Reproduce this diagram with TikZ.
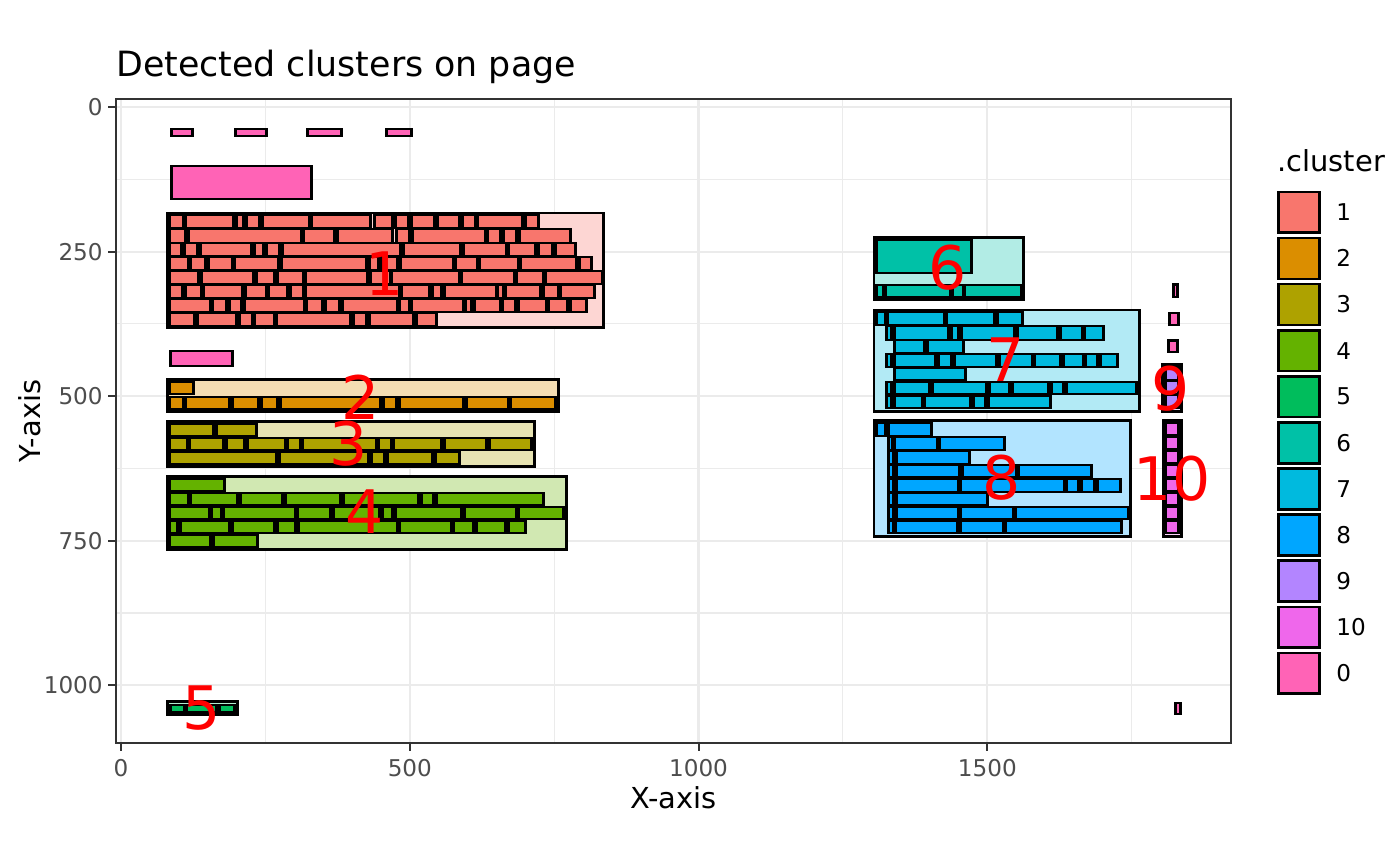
\documentclass[tikz,border=0pt]{standalone}
\usepackage{fontspec}
\setmainfont{DejaVu Sans}
\definecolor{c1}{HTML}{F8766D}
\definecolor{c2}{HTML}{DB8E00}
\definecolor{c3}{HTML}{AEA200}
\definecolor{c4}{HTML}{64B200}
\definecolor{c5}{HTML}{00BD5C}
\definecolor{c6}{HTML}{00C1A7}
\definecolor{c7}{HTML}{00BADE}
\definecolor{c8}{HTML}{00A6FF}
\definecolor{c9}{HTML}{B385FF}
\definecolor{c10}{HTML}{EF67EB}
\definecolor{c0}{HTML}{FF63B6}
\definecolor{gridc}{HTML}{EBEBEB}
\definecolor{gtw}{HTML}{333333}
\definecolor{gth}{HTML}{4D4D4D}
\newcommand\wrow[4]{%
  \foreach \a/\b in {#4}{\fill[black] (\a-3,#2-2.1) rectangle (\b+3,#3+2.1);}
  \foreach \a/\b in {#4}{\fill[#1] (\a,#2) rectangle (\b,#3);}}
\newcommand\hullbox[5]{\filldraw[fill=#1!30!white, draw=black, line width=1.4pt] (#2,#3) rectangle (#4,#5);}
\tikzset{
  majorgrid/.style={draw=gridc, line width=1.1pt},
  minorgrid/.style={draw=gridc, line width=0.55pt},
  tickmark/.style={draw=gtw, line width=1pt},
  ticklabel/.style={text=gth, inner sep=0pt, font=\fontsize{11.55}{13}\selectfont},
  axtitle/.style={inner sep=0pt, font=\fontsize{14.45}{16}\selectfont},
  clabel/.style={text=red, inner sep=0pt, font=\fontsize{30}{32}\selectfont},
  legkey/.style={draw=black, line width=1.3pt},
}
\begin{document}
\begin{tikzpicture}[x=0.5pt,y=-0.5pt]
\useasboundingbox (0,0) rectangle (1400,866);
\fill[white] (0,0) rectangle (1400,866);
% grid
\foreach \xx in {265.4,554.2,842.9,1131.7}{\draw[minorgrid] (\xx,99) -- (\xx,743);}
\foreach \yy in {179.3,323.9,468.4,613.0}{\draw[minorgrid] (116,\yy) -- (1231,\yy);}
\foreach \xx in {121,409.8,698.5,987.3}{\draw[majorgrid] (\xx,99) -- (\xx,743);}
\foreach \yy in {107,251.6,396.2,540.7,685.3}{\draw[majorgrid] (116,\yy) -- (1231,\yy);}
% cluster 0 (noise)
\wrow{c0}{130.5}{135.1}{172.5/191.4, 237.2/264.9, 309.2/340.3, 388/410}
\wrow{c0}{167.5}{198.1}{172.5/310}
\wrow{c0}{352.2}{364.8}{172/231}
\wrow{c0}{285.5}{296.1}{1174.5/1176.2}
\wrow{c0}{313.9}{323.8}{1170.7/1177}
\wrow{c0}{341.5}{351.1}{1170/1176.3}
\wrow{c0}{704.2}{713.1}{1176.9/1179.1}
% cluster 1
\hullbox{c1}{166.9}{212.9}{603.8}{327.1}
\wrow{c1}{216}{227.3}{171/182, 187.3/232, 237.7/242, 247.7/257.7, 264/307.7, 313/369.3, 375.7/391, 396.7/406.7, 412.7/433.3, 439/458, 463.7/474, 479.3/521, 526.7/537.3}
\wrow{c1}{230}{241.7}{171/184.3, 190/299.7, 305.3/333, 338.7/391, 398.3/408.3, 414/483.7, 489.3/499.3, 505/515.3, 521/569.3}
\wrow{c1}{244}{255.3}{171/180, 186/195.7, 201.7/250, 256/262, 267.7/277.7, 283.7/399, 405/459.3, 464.7/505, 510.3/534.3, 539.7/551, 556.7/574}
\wrow{c1}{258.3}{269.3}{171/186.7, 192.3/203.7, 209.7/230.7, 236.3/277.3, 283.3/365, 371/377, 382.7/395.7, 401.7/451.7, 457.3/475.7, 481.3/517, 522.3/575, 580.7/590}
\wrow{c1}{272}{283.3}{171/197.3, 203.3/252.3, 257.7/273, 278.7/302, 307.3/365.7, 371.7/388.5, 392.8/457.7, 463.3/512.7, 518/542, 547.3/601}
\wrow{c1}{286}{297.3}{171/181.3, 186.7/199.7, 205.3/241, 246.7/264.7, 270.3/286, 291.7/301.7, 307/398, 403.3/428.3, 433.7/440.3, 446/495, 499.3/502, 507.3/539.3, 544.7/556.7, 562/593}
\wrow{c1}{300}{311.3}{171/209, 214.3/224.7, 230.7/240.3, 246/303, 308/321.3, 326.7/338.3, 343.7/395.7, 401/408, 413.3/462.3, 467.3/470.3, 475.7/499, 504.3/514.3, 519.7/544.7, 550.3/566.3, 571.7/585}
\wrow{c1}{313.7}{325.3}{171/193.3, 198.7/235, 240.7/250.7, 256.3/272.7, 277.7/349.3, 355/365.3, 371/411.7, 417.7/435}
% cluster 2
\hullbox{c2}{167.2}{379.5}{558.1}{411.1}
\wrow{c2}{383.3}{393.3}{171/191.7}
\wrow{c2}{397.7}{407.7}{171/181.7, 187.3/228.3, 234/256.7, 262.7/276, 282/379.3, 385/395, 400.7/461.7, 467.7/506.7, 512.3/554.3}
% cluster 3
\hullbox{c3}{167.2}{421.2}{534.5}{466.5}
\wrow{c3}{425}{435}{171/212.3, 217.7/255}
\wrow{c3}{439}{449}{171/185.7, 191/222.3, 228/243, 249/283.7, 289.3/298.7, 304.3/375, 380/390, 395.3/440, 445.7/485, 490.7/530.3}
\wrow{c3}{453}{463.3}{171/275.3, 280.7/367.3, 373.3/383.3, 389.3/431, 436.7/458.3}
% cluster 4
\hullbox{c4}{167.2}{476.2}{566.1}{549.5}
\wrow{c4}{480.3}{490.3}{171/222.7}
\wrow{c4}{494}{504.3}{171/186.7, 191.7/236.3, 241.7/281.3, 287/339, 344.7/416.7, 423/432, 437.7/542.3}
\wrow{c4}{508}{518.3}{171/207.7, 213.3/220, 225/293.7, 299/329, 334.7/378.3, 384.3/391, 396.7/460, 465.7/514.7, 520.3/562.3}
\wrow{c4}{522}{532.3}{171/176.3, 182/228.3, 233.7/273.3, 279/294, 299.7/395.7, 401.3/450, 455.3/472, 477.7/504, 509.7/524.3}
\wrow{c4}{536}{546.3}{171/209.3, 215.3/256.3}
% cluster 5
\hullbox{c5}{167.2}{701.2}{237.8}{714.8}
\wrow{c5}{705.7}{710.7}{171.7/183.3, 188.3/215, 221/233.3}
% cluster 6
\hullbox{c6}{873.9}{237.2}{1023.1}{299.5}
\wrow{c6}{241}{272.3}{877.7/970.3}
\wrow{c6}{285.7}{295.7}{877.7/881.7, 887.3/949, 954.3/961.7, 966/1020.3}
% cluster 7
\hullbox{c7}{873.9}{309.9}{1139.1}{411.1}
\wrow{c7}{313.3}{324}{877.7/884, 889.3/942.7, 947.7/993, 998.7/1021}
\wrow{c7}{327.3}{338.7}{888.3/890.3, 896/947.3, 953.3/957, 963/1013.3, 1019/1056, 1061.7/1080.7, 1086/1102}
\wrow{c7}{341}{352}{896/923.3, 928.7/962.3}
\wrow{c7}{355}{366}{888.3/890.3, 896/934, 940/949.7, 955.7/995, 1001/1030.7, 1036/1059.3, 1064.7/1082, 1087.3/1096.3, 1101.7/1115.7}
\wrow{c7}{369}{379.3}{896/964}
\wrow{c7}{382.7}{393.3}{888.3/890.3, 896/928.3, 934/985.3, 990.7/1007.7, 1013.7/1047.3, 1052.7/1062, 1067.7/1135.3}
\wrow{c7}{396.7}{407.3}{888.3/890.3, 896/920.7, 926.3/969, 975/984.3, 990/1049}
% cluster 8
\hullbox{c8}{873.9}{420.5}{1130.5}{536.1}
\wrow{c8}{424}{434.7}{877.7/884.3, 890/929.7}
\wrow{c8}{438.3}{448.7}{890/891, 896/936, 941/1003.3}
\wrow{c8}{452.3}{462.7}{890/892.3, 898/968.3}
\wrow{c8}{466}{476.3}{890/892.3, 898/958.3, 964/1015, 1019.7/1089.7}
\wrow{c8}{479.7}{490.7}{890/892.3, 898/956.7, 962.3/1062.7, 1068.3/1077.3, 1082.7/1093.3, 1098.7/1119.3}
\wrow{c8}{493.7}{504.3}{890/892.3, 898/986.3}
\wrow{c8}{507.7}{518.3}{890/892.3, 898.3/957, 962.3/1011.7, 1017/1127}
\wrow{c8}{521.7}{532}{890/892.3, 897.3/956, 961.7/1001.7, 1007/1119.7}
% cluster 9
\hullbox{c9}{1162.4}{364.5}{1181.1}{411.3}
\wrow{c9}{368}{378.5}{1167/1177}
\wrow{c9}{382}{392.5}{1167/1177}
\wrow{c9}{396}{406.5}{1167/1177}
% cluster 10
\hullbox{c10}{1163.7}{420.5}{1181.3}{536.1}
\foreach \k in {0,...,7}{\wrow{c10}{424+14*\k}{434+14*\k}{1166.7/1177.3}}
% cluster labels
\node[clabel] (l1) at (385,274) {1};
\node[clabel] (l2) at (361,397) {2};
\node[clabel] (l3) at (349,444) {3};
\node[clabel] (l4) at (365,512) {4};
\node[clabel] (l5) at (202,708) {5};
\node[clabel] (l6) at (948,268) {6};
\node[clabel] (l7) at (1006,360) {7};
\node[clabel] (l8) at (1002,478) {8};
\node[clabel] (l9) at (1171,389) {9};
\node[clabel] (l10) at (1172,479) {10};
% panel border
\draw[gtw, line width=0.9pt] (116,99) rectangle (1231,743);
% axes
\foreach \v/\yy in {0/107,250/251.6,500/396.2,750/540.7,1000/685.3}{
  \draw[tickmark] (108.3,\yy) -- (116,\yy);
  \node[ticklabel, anchor=east] (yt\v) at (103,\yy) {\v};}
\foreach \v/\xx in {0/121,500/409.8,1000/698.5,1500/987.3}{
  \draw[tickmark] (\xx,743) -- (\xx,750.6);
  \node[ticklabel, anchor=north] (xt\v) at (\xx,759) {\v};}
\node[axtitle] (xlab) at (673.5,798) {X-axis};
\node[axtitle, rotate=90] (ylab) at (30,421) {Y-axis};
\node[inner sep=0pt, anchor=base west, font=\fontsize{17.4}{20}\selectfont] (title) at (116,77) {Detected clusters on page};
% legend
\node[axtitle, anchor=base west] (legtitle) at (1277,172) {.cluster};
\foreach \lab/\col [count=\i] in {1/c1,2/c2,3/c3,4/c4,5/c5,6/c6,7/c7,8/c8,9/c9,10/c10,0/c0}{
  \pgfmathsetmacro\yy{212.3+46.1*(\i-1)}
  \filldraw[legkey, fill=\col] (1278.6,\yy-20.4) rectangle (1319.4,\yy+20.4);
  \node[inner sep=0pt, anchor=west, font=\fontsize{11.55}{13}\selectfont] (leg\i) at (1336,\yy) {\lab};}
\end{tikzpicture}
\end{document}
